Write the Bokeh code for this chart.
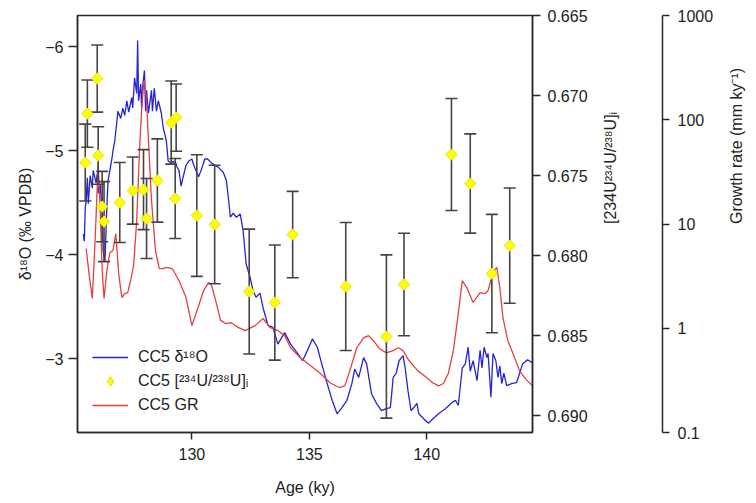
import numpy as np
from bokeh.plotting import figure
from bokeh.models import (Range1d, LinearAxis, LogAxis, LogScale, FixedTicker,
                          Legend, LegendItem, PrintfTickFormatter, CustomJSTickFormatter)
from bokeh.embed import file_html
from bokeh.resources import INLINE

# ---- data ----
d18o_age = [125.38, 125.42, 125.46, 125.50, 125.55, 125.59, 125.67, 125.76, 125.80, 125.92,
            125.97, 126.01, 126.09, 126.18, 126.22, 126.30, 126.34, 126.39, 126.43, 126.51,
            126.60, 126.64, 126.72, 126.81, 126.85, 126.97, 127.06, 127.14, 127.23, 127.31,
            127.44, 127.48, 127.56, 127.65, 127.69, 127.73, 127.82, 127.86, 127.90, 127.98,
            128.03, 128.07, 128.15, 128.28, 128.32, 128.40, 128.49, 128.57, 128.70, 128.78,
            128.91, 128.99, 129.12, 129.20, 129.33, 129.45, 129.54, 129.62, 129.75, 129.87,
            130.00, 130.08, 130.21, 130.29, 130.42, 130.55, 130.67, 130.84, 131.13, 131.34,
            131.47, 131.55, 131.64, 131.76, 131.89, 132.06, 132.18, 132.31, 132.48, 132.61,
            132.73, 132.90, 133.03, 133.24, 133.45, 133.66, 133.95, 134.20, 134.50, 134.71,
            134.92, 135.13, 135.34, 135.55, 135.76, 135.97, 136.18, 136.39, 136.60, 136.81,
            136.93, 137.10, 137.31, 137.44, 137.65, 137.86, 138.07, 138.28, 138.45, 138.57,
            138.70, 138.82, 138.99, 139.08, 139.20, 139.33, 139.45, 139.58, 139.66, 139.96,
            140.08, 140.25, 140.50, 140.80, 141.09, 141.22, 141.34, 141.51, 141.64, 141.76,
            141.85, 141.97, 142.14, 142.27, 142.35, 142.44, 142.56, 142.61, 142.73, 142.82,
            142.94, 143.03, 143.11, 143.19, 143.28, 143.40, 143.61, 143.82, 143.95, 144.08,
            144.29, 144.50]
d18o_val = [-4.20, -4.13, -4.45, -4.52, -4.74, -4.49, -4.76, -4.64, -4.81, -4.69,
            -4.78, -4.59, -4.68, -4.42, -4.04, -3.94, -4.20, -4.52, -4.71, -4.81,
            -4.93, -5.00, -5.10, -5.29, -5.38, -5.31, -5.41, -5.34, -5.48, -5.37,
            -5.51, -5.41, -5.70, -5.55, -6.06, -5.48, -5.64, -5.41, -5.61, -5.77,
            -5.38, -5.58, -5.36, -5.58, -5.38, -5.60, -5.38, -5.48, -5.36, -5.22,
            -5.10, -4.90, -4.88, -4.90, -4.86, -4.81, -4.66, -4.74, -4.86, -4.90,
            -4.92, -4.86, -4.79, -4.75, -4.83, -4.92, -4.92, -4.88, -4.84, -4.79,
            -4.71, -4.55, -4.36, -4.40, -4.36, -4.39, -4.23, -3.91, -3.78, -3.65,
            -3.59, -3.63, -3.49, -3.32, -3.30, -3.14, -3.25, -3.14, -3.05, -2.98,
            -3.08, -3.19, -3.11, -2.93, -2.76, -2.60, -2.47, -2.53, -2.60, -2.76,
            -2.90, -2.82, -3.01, -2.95, -2.66, -2.57, -2.50, -2.52, -2.53, -2.82,
            -2.86, -2.98, -3.03, -2.91, -2.69, -2.50, -2.53, -2.57, -2.47, -2.40,
            -2.38, -2.42, -2.47, -2.52, -2.58, -2.60, -2.55, -2.91, -2.95, -3.11,
            -2.88, -2.98, -2.79, -3.08, -2.91, -3.11, -3.01, -3.05, -2.63, -3.05,
            -2.98, -2.82, -2.93, -2.76, -2.86, -2.74, -2.76, -2.77, -2.86, -2.95,
            -2.99, -2.96]

gr_age = [125.50, 125.63, 125.76, 125.88, 126.01, 126.09, 126.18, 126.26, 126.39, 126.51,
          126.64, 126.76, 126.89, 127.02, 127.14, 127.27, 127.39, 127.52, 127.65, 127.77,
          127.86, 127.94, 127.98, 128.07, 128.15, 128.28, 128.45, 128.61, 128.78, 128.91,
          129.16, 129.45, 129.75, 130.00, 130.29, 130.50, 130.71, 130.84, 131.01, 131.22,
          131.43, 131.68, 131.97, 132.27, 132.69, 133.03, 133.32, 133.66, 133.95, 134.20,
          134.62, 135.04, 135.46, 135.88, 136.26, 136.51, 136.72, 137.02, 137.31, 137.52,
          137.73, 137.98, 138.28, 138.57, 138.78, 138.99, 139.24, 139.62, 139.96, 140.25,
          140.50, 140.71, 140.92, 141.13, 141.34, 141.51, 141.72, 141.97, 142.27, 142.48,
          142.61, 142.82, 142.98, 143.11, 143.24, 143.45, 143.74, 143.95, 144.24, 144.50]
gr_val = [5.8, 3.21, 1.93, 6.95, 38.0, 15.0, 3.58, 1.93, 3.74, 5.33,
          5.57, 8.1, 3.21, 1.97, 2.15, 2.20, 2.87, 4.0, 10.8, 50.7,
          123.0, 213.0, 238.0, 153.0, 63.2, 16.8, 5.57, 3.74, 3.74, 3.83,
          3.74, 2.87, 1.97, 1.06, 1.65, 2.30, 2.75, 2.57, 1.85, 1.19,
          1.11, 1.13, 1.02, 0.95, 1.06, 1.24, 1.02, 0.95, 0.85, 0.65,
          0.52, 0.44, 0.37, 0.30, 0.27, 0.28, 0.39, 0.65, 0.81, 0.85,
          0.76, 0.64, 0.58, 0.61, 0.65, 0.61, 0.49, 0.39, 0.34, 0.30,
          0.28, 0.295, 0.37, 0.61, 1.38, 2.87, 2.41, 1.77, 2.20, 2.15,
          2.30, 3.43, 3.83, 2.46, 1.27, 0.76, 0.52, 0.39, 0.32, 0.28]

u_age = [125.46, 125.55, 125.97, 126.01, 126.18, 126.26, 126.93, 127.48, 127.94, 128.07,
         128.53, 129.12, 129.33, 129.29, 130.21, 130.97, 132.44, 133.53, 134.29, 136.55,
         138.28, 139.03, 141.05, 141.85, 142.77, 143.53]
u_val = [0.67419, 0.67113, 0.66894, 0.67375, 0.67694, 0.67788, 0.67669, 0.67594, 0.67588, 0.67769,
         0.67531, 0.67169, 0.67138, 0.67644, 0.67750, 0.67806, 0.68225, 0.68294, 0.67869, 0.68194,
         0.68506, 0.68181, 0.67369, 0.67550, 0.68113, 0.67938]
u_err = [0.0024, 0.0021, 0.0021, 0.0018, 0.0022, 0.0025, 0.0025, 0.0021, 0.0025, 0.0025,
         0.0026, 0.0026, 0.0021, 0.0025, 0.0038, 0.0037, 0.0039, 0.0036, 0.0027, 0.0040,
         0.0051, 0.0032, 0.0035, 0.0031, 0.0037, 0.0036]

x_ticks = [130, 135, 140]
d18o_ticks = [-6, -5, -4, -3]
u_ticks = [0.665, 0.670, 0.675, 0.680, 0.685, 0.690]
gr_ticks = [0.1, 1, 10, 100, 1000]
gr_tick_labels = ["0.1", "1", "10", "100", "1000"]

x_label = "Age (ky)"
d18o_label = "δ¹⁸O (‰ VPDB)"
u_label = "[234U²³⁴U/²³⁸U]ᵢ"
gr_label = "Growth rate (mm ky⁻¹)"
legend_labels = ["CC5 δ¹⁸O", "CC5 [²³⁴U/²³⁸U]ᵢ", "CC5 GR"]

FONT = "Liberation Sans"
TXT = "#222222"
AX = "#2a2a2a"
YELLOW = "#ffff00"
YEDGE = "#e2e200"

p = figure(width=756, height=503, output_backend="svg", toolbar_location=None,
           x_range=Range1d(125.13, 144.5), y_range=Range1d(-2.29, -6.30),
           min_border_left=77, min_border_right=0, min_border_top=15, min_border_bottom=71)
p.extra_y_ranges = {"u": Range1d(0.69106, 0.665), "gr": Range1d(0.1, 1000)}
p.extra_y_scales = {"gr": LogScale()}
p.grid.visible = False
p.outline_line_color = AX
p.outline_line_width = 1.5
p.background_fill_color = "white"
p.border_fill_color = "white"


def style_axis(ax, tick_out, standoff, label_standoff):
    ax.axis_line_color = AX
    ax.axis_line_width = 1.5
    ax.major_tick_line_color = AX
    ax.major_tick_line_width = 1.5
    ax.major_tick_in = 0
    ax.major_tick_out = tick_out
    ax.minor_tick_line_color = None
    ax.minor_tick_in = 0
    ax.minor_tick_out = 0
    ax.major_label_text_font = FONT
    ax.major_label_text_font_size = "16px"
    ax.major_label_text_color = TXT
    ax.major_label_standoff = standoff
    ax.axis_label_text_font = FONT
    ax.axis_label_text_font_size = "16px"
    ax.axis_label_text_font_style = "normal"
    ax.axis_label_text_color = TXT
    ax.axis_label_standoff = label_standoff


xa = p.xaxis[0]
xa.ticker = FixedTicker(ticks=x_ticks)
xa.axis_label = x_label
style_axis(xa, 7, 8, 16)

ya = p.yaxis[0]
ya.ticker = FixedTicker(ticks=d18o_ticks)
ya.axis_label = d18o_label
style_axis(ya, 9, 5, 8)

ua = LinearAxis(y_range_name="u", ticker=FixedTicker(ticks=u_ticks),
                formatter=PrintfTickFormatter(format="%.3f"), axis_label=u_label)
style_axis(ua, 8, 7, 20)
ua.axis_label_orientation = np.pi / 2
p.add_layout(ua, "right")

# blank axis that only keeps the gap between the two right-hand axes
spacer = LinearAxis(y_range_name="u", ticker=FixedTicker(ticks=[u_ticks[2]]),
                    formatter=CustomJSTickFormatter(code="return ''"))
spacer.axis_line_color = None
spacer.major_tick_line_color = "white"
spacer.major_tick_line_width = 1
spacer.minor_tick_line_color = None
spacer.major_tick_in = 0
spacer.major_tick_out = 32
spacer.minor_tick_out = 0
spacer.major_label_standoff = 0
p.add_layout(spacer, "right")

ga = LogAxis(y_range_name="gr", ticker=FixedTicker(ticks=gr_ticks), axis_label=gr_label)
ga.major_label_overrides = {t: s for t, s in zip(gr_ticks, gr_tick_labels)}
style_axis(ga, 7, 8, 20)
ga.axis_label_orientation = np.pi / 2
p.add_layout(ga, "right")

# ---- glyphs ----
blue = p.line(d18o_age, d18o_val, line_color="#2424d6", line_width=1.3)
red = p.line(gr_age, gr_val, y_range_name="gr", line_color="#e4403e", line_width=1.3)

u_arr = np.array(u_val)
e_arr = np.array(u_err)
upper = u_arr - e_arr
lower = u_arr + e_arr
p.segment(x0=u_age, y0=lower, x1=u_age, y1=upper, y_range_name="u",
          line_color="#444444", line_width=1.6)
p.scatter(u_age, upper, y_range_name="u", marker="dash", size=12,
          line_color="#444444", line_width=1.6)
p.scatter(u_age, lower, y_range_name="u", marker="dash", size=12,
          line_color="#444444", line_width=1.6)
# plain diamonds (used for the legend swatch), covered by the square-ish diamonds on top
dia_key = p.scatter(u_age, u_val, y_range_name="u", marker="diamond", size=11,
                    fill_color=YELLOW, line_color=YEDGE, line_width=1)
p.scatter(u_age, u_val, y_range_name="u", marker="square", angle=np.pi / 4,
          size=8, fill_color=YELLOW, line_color=YEDGE, line_width=1)

legend = Legend(items=[LegendItem(label=legend_labels[0], renderers=[blue]),
                       LegendItem(label=legend_labels[1], renderers=[dia_key]),
                       LegendItem(label=legend_labels[2], renderers=[red])],
                location=(15, 15), margin=0, padding=0, spacing=0,
                label_height=24, glyph_height=24, glyph_width=36, label_standoff=10,
                label_text_font=FONT, label_text_font_size="16px", label_text_color=TXT,
                background_fill_alpha=0, border_line_color=None)
p.add_layout(legend)

open("out.html", "w").write(file_html(p, INLINE))
